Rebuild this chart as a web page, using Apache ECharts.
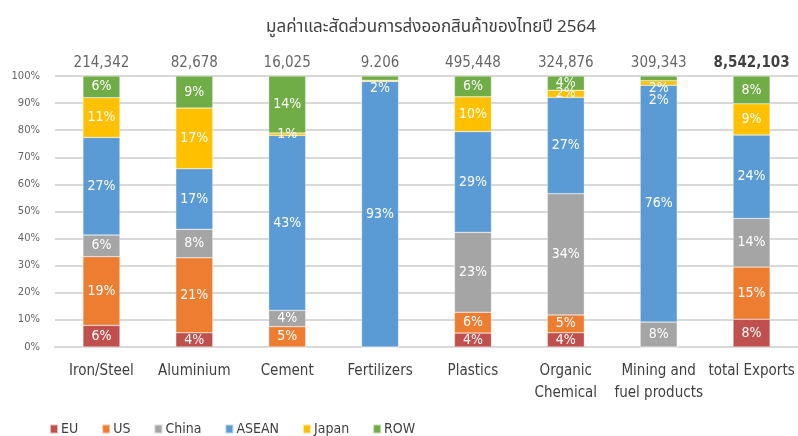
<!DOCTYPE html>
<html>
<head>
<meta charset="utf-8">
<script src="https://cdn.jsdelivr.net/npm/echarts@6/dist/echarts.min.js"></script>
<style>
  html, body { margin: 0; padding: 0; background: #fff; }
  #chart { width: 798px; height: 436px; }
</style>
</head>
<body>
<div id="chart"></div>
<script>
const categories = ['Iron/Steel', 'Aluminium', 'Cement', 'Fertilizers', 'Plastics',
  'Organic\nChemical', 'Mining and\nfuel products', 'total Exports']
const totals = ['214,342', '82,678', '16,025', '9.206', '495,448', '324,876', '309,343', '8,542,103']

// shares printed on the bars (%)
const eu = [6, 4, 0, 0, 4, 4, 0, 8]
const us = [19, 21, 5, 0, 6, 5, 0, 15]
const china = [6, 8, 4, 0, 23, 34, 8, 14]
const asean = [27, 17, 43, 93, 29, 27, 76, 24]
const japan = [11, 17, 0.6, 0.4, 10, 2, 1.5, 9]
const row = [6, 9, 14, 1.5, 6, 4, 1.5, 8]

const yTicks = [0, 10, 20, 30, 40, 50, 60, 70, 80, 90, 100]

const groups = [
  { name: 'EU', data: eu, color: '#C0504D' },
  { name: 'US', data: us, color: '#ED7D31' },
  { name: 'China', data: china, color: '#A5A5A5' },
  { name: 'ASEAN', data: asean, color: '#5B9BD5' },
  { name: 'Japan', data: japan, color: '#FFC000' },
  { name: 'ROW', data: row, color: '#70AD47' }
]

// label nudges for the crowded tops (series name -> category index -> dy)
const nudge = { ROW: { 3: 10, 6: 10 }, Japan: { 6: 17 } }

const sums = categories.map((c, i) => groups.reduce((s, g) => s + g.data[i], 0))

const font = "'Liberation Sans Narrow', 'DejaVu Sans Condensed', 'Arial Narrow', sans-serif"

const chart = echarts.init(document.getElementById('chart'))

const series = groups.map(g => ({
  name: g.name,
  type: 'bar',
  stack: 'share',
  barWidth: 37,
  itemStyle: { color: g.color, borderColor: 'rgba(255,255,255,0.6)', borderWidth: 0.5 },
  data: g.data.map((v, i) => {
    const item = { value: v / sums[i] * 100, raw: v }
    if (v < 0.5) item.label = { show: false }
    const dy = nudge[g.name] && nudge[g.name][i]
    if (dy) item.label = { offset: [0, dy] }
    return item
  }),
  label: {
    show: true,
    position: 'inside',
    color: '#fff',
    fontFamily: font,
    fontSize: 14,
    formatter: p => Math.round(p.data.raw) + '%'
  }
}))

// export totals sitting just above each column
series.push({
  name: 'total',
  type: 'scatter',
  symbolSize: 0,
  silent: true,
  data: categories.map(() => yTicks[yTicks.length - 1]),
  label: {
    show: true,
    position: 'top',
    distance: 5,
    fontFamily: font,
    fontSize: 15,
    color: '#404040',
    formatter: p => p.dataIndex === categories.length - 1
      ? '{b|' + totals[p.dataIndex] + '}' : totals[p.dataIndex],
    rich: { b: { fontFamily: font, fontSize: 15, fontWeight: 'bold', color: '#111' } }
  }
})

chart.setOption({
  animation: false,
  graphic: [{
    type: 'text',
    left: 266,
    top: 20,
    style: {
      text: 'มูลค่าและสัดส่วนการส่งออกสินค้าของไทยปี 2564',
      fontSize: 17,
      fontFamily: "'Noto Sans Thai', 'Loma', 'Garuda', 'Noto Sans', sans-serif",
      fill: '#404040'
    }
  }],
  legend: {
    data: groups.map(g => g.name),
    left: 44,
    top: 417,
    itemWidth: 8,
    itemHeight: 9,
    itemGap: 23,
    icon: 'rect',
    textStyle: { fontFamily: font, fontSize: 14, color: '#404040', padding: [0, 0, 0, -2] }
  },
  grid: { left: 55, top: 76, width: 753, height: 271 },
  xAxis: {
    type: 'category',
    data: categories,
    axisTick: { show: false },
    axisLine: { lineStyle: { color: '#d9d9d9', width: 2 } },
    axisLabel: {
      interval: 0,
      margin: 13,
      fontFamily: font,
      fontSize: 15,
      lineHeight: 22,
      color: '#404040'
    }
  },
  yAxis: {
    type: 'value',
    min: yTicks[0],
    max: yTicks[yTicks.length - 1],
    interval: 10,
    axisLine: { show: false },
    axisTick: { show: false },
    splitLine: { lineStyle: { color: '#d9d9d9', width: 2 } },
    axisLabel: {
      margin: 15,
      fontFamily: "'DejaVu Sans', sans-serif",
      fontSize: 10,
      color: '#666',
      formatter: '{value}%'
    }
  },
  series
})
</script>
</body>
</html>
